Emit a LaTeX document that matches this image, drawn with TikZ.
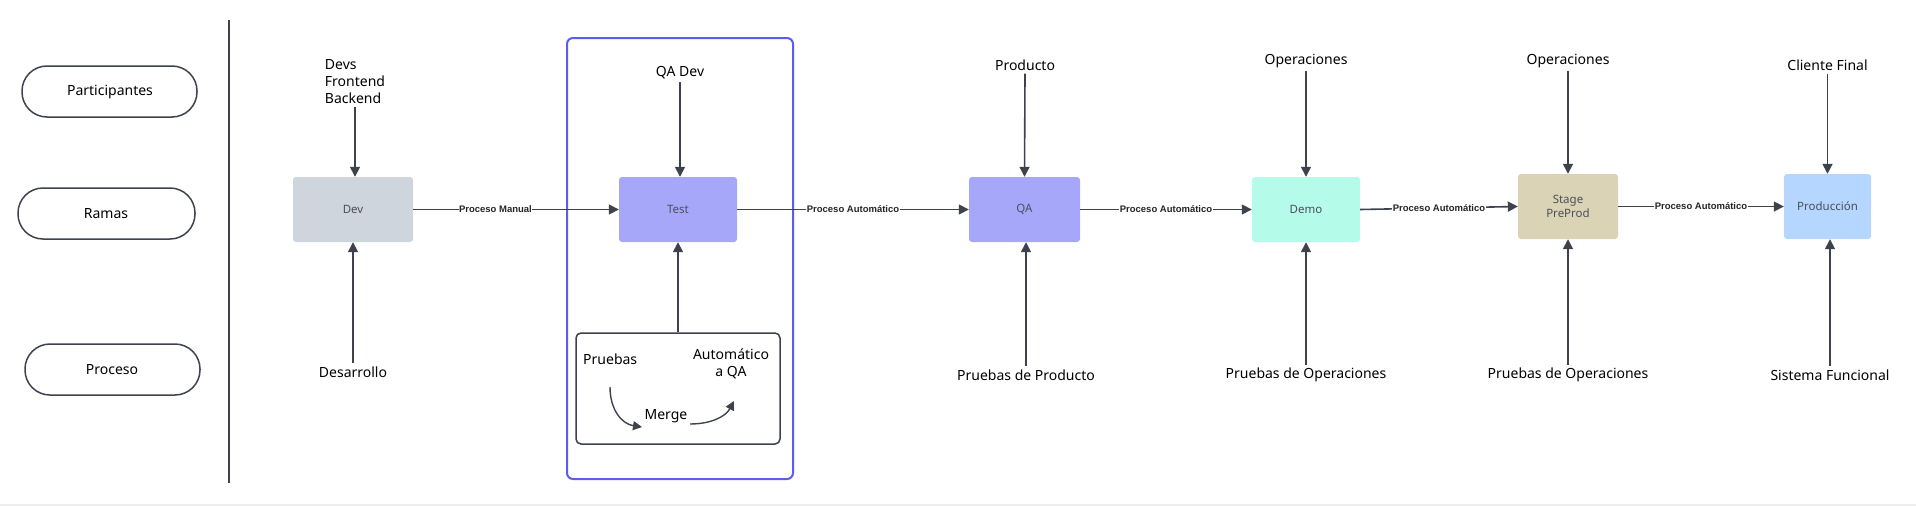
\documentclass[tikz,border=0pt]{standalone}
\usepackage{fontspec}
\setmainfont{Noto Sans}
\newfontfamily\lblfont{Liberation Sans}
\usetikzlibrary{arrows.meta,calc}
\definecolor{ink}{HTML}{3D424D}
\definecolor{boxtxt}{HTML}{4A4F5C}
\definecolor{devfill}{HTML}{CFD5DC}
\definecolor{testfill}{HTML}{A6A7F9}
\definecolor{demofill}{HTML}{B5FBEA}
\definecolor{stagefill}{HTML}{DBD3B5}
\definecolor{prodfill}{HTML}{B5D6FE}
\definecolor{frame}{HTML}{5C5CF5}
\definecolor{bottomline}{HTML}{EEEEF0}
\tikzset{
  pill/.style={draw=ink, line width=1.5pt, rounded corners=25pt, font=\fontsize{14}{17}\selectfont, text=black},
  stagebox/.style={rounded corners=3pt, font=\fontsize{11.5}{14}\selectfont, text=boxtxt, align=center},
  who/.style={font=\fontsize{14}{17}\selectfont, text=black, inner sep=3pt},
  conn/.style={draw=ink, line width=1.6pt, -{Triangle[length=10pt,width=10pt]}},
  smallconn/.style={draw=ink, line width=1.4pt, -{Triangle[length=9pt,width=9pt]}},
  elabel/.style={fill=white, inner sep=0.5pt, font=\lblfont\bfseries\fontsize{9.5}{11}\selectfont, text=black!85},
}
\begin{document}
\begin{tikzpicture}[x=1pt,y=-1pt]
\useasboundingbox (0,0) rectangle (1916,506);
\fill[bottomline] (0,503.5) rectangle (1916,506);

% left column
\draw[pill] (22,66) rectangle (197,117);
\node[font=\fontsize{14}{17}\selectfont] (lp) at (110,92) {Participantes};
\draw[pill] (18,188) rectangle (195,239);
\node[font=\fontsize{14}{17}\selectfont] (lr) at (106,213.5) {Ramas};
\draw[pill] (25,344) rectangle (200,395);
\node[font=\fontsize{14}{17}\selectfont] (lpr) at (112,370) {Proceso};
\draw[ink, line width=1.5pt] (229,20) -- (229,483);

% blue frame
\draw[frame, line width=2pt, rounded corners=6pt] (567,38) rectangle (793,479);

% boxes
\path[fill=devfill, rounded corners=3pt] (293,177) rectangle (413,242);
\node[stagebox] (dev) at (353,209.5) [minimum width=120pt, minimum height=65pt] {Dev};
\path[fill=testfill, rounded corners=3pt] (619,177) rectangle (737,242);
\node[stagebox] (test) at (678,209.5) [minimum width=118pt, minimum height=65pt] {Test};
\path[fill=testfill, rounded corners=3pt] (969,177) rectangle (1080,242);
\node[stagebox] (qa) at (1024.5,209.5) [minimum width=111pt, minimum height=65pt] {QA};
\path[fill=demofill, rounded corners=3pt] (1252,177) rectangle (1360,242);
\node[stagebox] (demo) at (1306,209.5) [minimum width=108pt, minimum height=65pt] {Demo};
\path[fill=stagefill, rounded corners=3pt] (1518,174) rectangle (1618,239);
\node[stagebox] (stage) at (1568,206.5) [minimum width=100pt, minimum height=65pt] {Stage\\PreProd};
\path[fill=prodfill, rounded corners=3pt] (1784,174) rectangle (1871,239);
\node[stagebox] (prod) at (1827.5,206.5) [minimum width=87pt, minimum height=65pt] {Producción};

% horizontal flow
\draw[conn] (dev.east) -- node[elabel, pos=0.4] {Proceso Manual} (test.west);
\draw[conn] (test.east) -- node[elabel] {Proceso Automático} (qa.west);
\draw[conn] (qa.east) -- node[elabel] {Proceso Automático} (demo.west);
\draw[conn] (demo.east) -- node[elabel] {Proceso Automático} (stage.west);
\draw[conn] (stage.east) -- node[elabel] {Proceso Automático} (prod.west);

% participants (top)
\node[who, align=left] (devs) at (355,82) {Devs\\Frontend\\Backend};
\node[who] (qadev) at (680,73) {QA Dev};
\node[who] (producto) at (1025,65) {Producto};
\node[who] (ops1) at (1306,61) {Operaciones};
\node[who] (ops2) at (1568,61) {Operaciones};
\node[who] (cliente) at (1827.5,65) {Cliente Final};

\draw[conn] (devs.south) -- (devs.south |- dev.north);
\draw[conn] (qadev.south) -- (qadev.south |- test.north);
\draw[conn] (producto.south) -- (qa.north);
\draw[conn] (ops1.south) -- (demo.north);
\draw[conn] (ops2.south) -- (stage.north);
\draw[conn] (cliente.south) -- (prod.north);

% process (bottom)
\node[who] (desarrollo) at (353,372) {Desarrollo};
\node[who] (pprod) at (1026,375) {Pruebas de Producto};
\node[who] (pops1) at (1306,375) {Pruebas de Operaciones};
\node[who] (pops2) at (1568,375) {Pruebas de Operaciones};
\node[who] (sistema) at (1830,375) {Sistema Funcional};

\draw[conn] (desarrollo.north) -- (dev.south);
\draw[conn] (pprod.north) -- (pprod.north |- qa.south);
\draw[conn] (pops1.north) -- (demo.south);
\draw[conn] (pops2.north) -- (stage.south);
\draw[conn] (sistema.north) -- (sistema.north |- prod.south);

% inner process box
\node[draw=ink, line width=1.5pt, rounded corners=5pt, minimum width=204pt, minimum height=111pt, inner sep=0pt] (inner) at (678,388.5) {};
\draw[conn] (inner.north) -- (test.south);
\node[who, anchor=west] (pruebas) at (580,359) {Pruebas};
\node[who, align=center] (auto) at (731,364) {Automático\\a QA};
\node[who] (merge) at (666,416) {Merge};
\coordinate (c1s) at (610,387);
\coordinate (c1e) at (642,427);
\coordinate (c2s) at (690,424);
\coordinate (c2e) at (734,401);
\draw[smallconn] (c1s) .. controls (610,410) and (622,424) .. (c1e);
\draw[smallconn] (c2s) .. controls (712,424) and (726,416) .. (c2e);
\end{tikzpicture}
\end{document}
